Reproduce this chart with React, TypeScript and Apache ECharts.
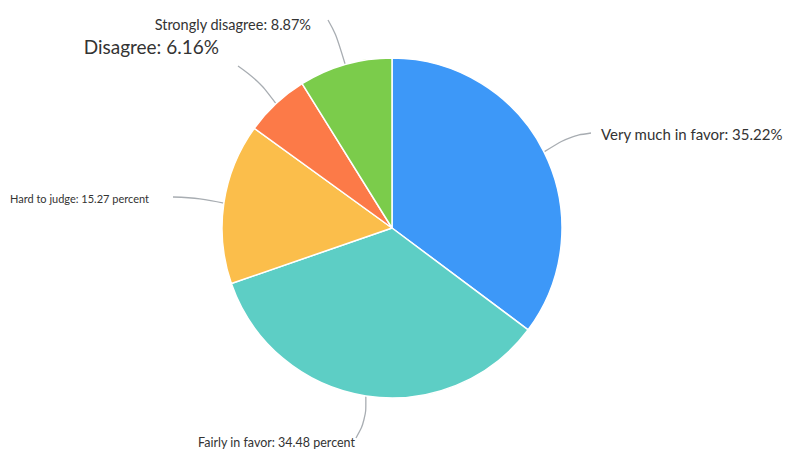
import React, { useEffect, useRef } from "react";
import * as echarts from "echarts";

const categories = [
  "Very much in favor",
  "Fairly in favor",
  "Hard to judge",
  "Disagree",
  "Strongly disagree",
];
const values = [35.22, 34.48, 15.27, 6.16, 8.87];
const labelTexts = [
  "Very much in favor: 35.22%",
  "Fairly in favor: 34.48 percent",
  "Hard to judge: 15.27 percent",
  "Disagree: 6.16%",
  "Strongly disagree: 8.87%",
];
const colors = ["#3d98f8", "#5dcec5", "#fbbe4b", "#fc7a48", "#7bcc4b"];
const fontSizes = [15, 12.5, 11, 19, 14.5];

// label placement: [labelX, labelY, align, midX, midY, endX, endY]
const labelPlace: [number, number, string, number, number, number, number][] = [
  [601, 134, "left", 570, 136, 591, 133],
  [355, 442, "right", 366, 420, 356, 438],
  [149, 198, "right", 200, 198, 173, 197],
  [219, 46, "right", 258, 80, 238, 66],
  [311, 24, "right", 336, 34, 328, 20],
];

export default function App() {
  const ref = useRef<HTMLDivElement>(null);
  useEffect(() => {
    if (!ref.current) return;
    const chart = echarts.init(ref.current, undefined, { renderer: "svg" });
    chart.setOption({
      animation: false,
      backgroundColor: "#ffffff",
      series: [
        {
          type: "pie",
          center: [392, 228],
          radius: 170,
          startAngle: 90,
          clockwise: true,
          data: categories.map((name, i) => ({
            name,
            value: values[i],
            itemStyle: { color: colors[i] },
            label: {
              formatter: labelTexts[i],
              fontSize: fontSizes[i],
            },
          })),
          itemStyle: { borderColor: "#ffffff", borderWidth: 1.5 },
          label: {
            show: true,
            color: "#333333",
            fontFamily: "Lato",
            overflow: "none",
            edgeDistance: 0,
            bleedMargin: 0,
          },
          labelLine: {
            show: true,
            smooth: 0.4,
            lineStyle: { color: "#a8adb2", width: 1.3 },
          },
          labelLayout: (params: any) => {
            const p = labelPlace[params.dataIndex];
            const start = params.labelLinePoints
              ? params.labelLinePoints[0]
              : [p[3], p[4]];
            return {
              x: p[0],
              y: p[1],
              align: p[2],
              verticalAlign: "middle",
              labelLinePoints: [start, [p[3], p[4]], [p[5], p[6]]],
            };
          },
        },
      ],
    });
    return () => chart.dispose();
  }, []);
  return (
    <div
      ref={ref}
      style={{ position: "fixed", left: 0, top: 0, width: 785, height: 450 }}
    />
  );
}
